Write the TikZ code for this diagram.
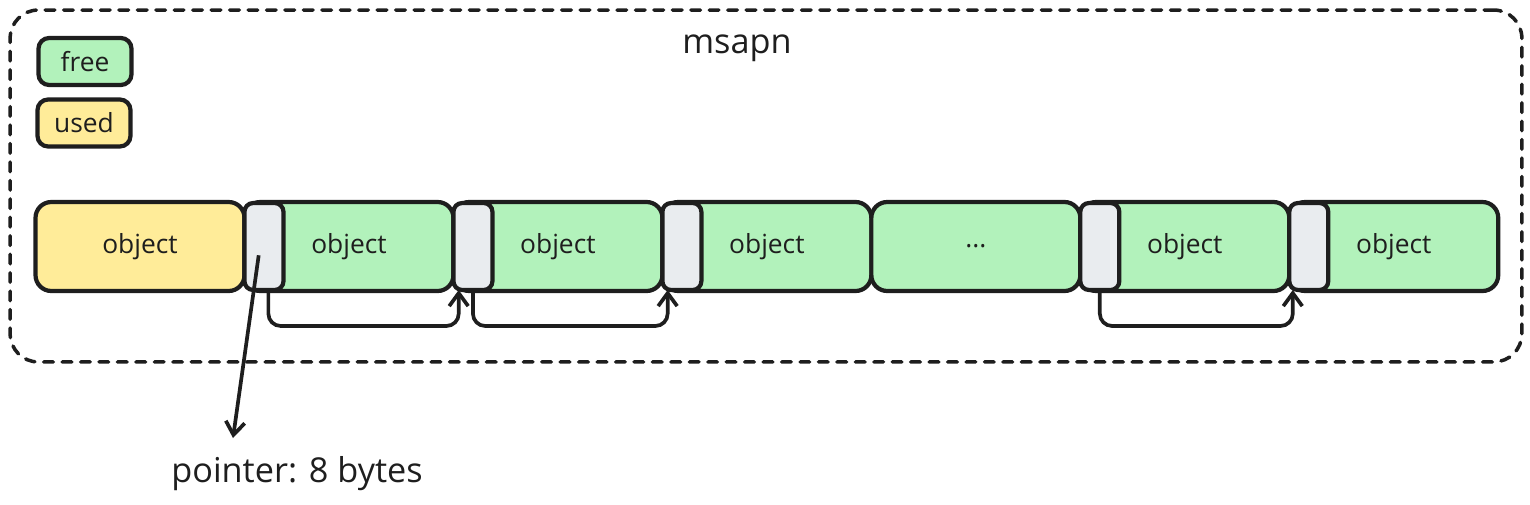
\documentclass[tikz,border=0pt]{standalone}
\usepackage{fontspec}
\setmainfont{Open Sans}
\usepackage{tikz}
\usetikzlibrary{positioning,arrows.meta}
\definecolor{ink}{HTML}{1E1E1E}
\definecolor{freegreen}{HTML}{B2F2BB}
\definecolor{usedyellow}{HTML}{FFEC99}
\definecolor{ptrgray}{HTML}{E9ECEF}
\tikzset{
  blk/.style    ={rectangle, rounded corners=9pt, draw=ink, line width=2.4pt, outer sep=0pt,
                  inner sep=0pt, minimum width=4.18cm, minimum height=1.78cm, text=ink,
                  font=\fontsize{15}{17}\selectfont},
  freeblk/.style={blk, fill=freegreen},
  usedblk/.style={blk, fill=usedyellow},
  ptr/.style    ={rectangle, rounded corners=5pt, draw=ink, line width=2.4pt, fill=ptrgray,
                  minimum width=0.78cm, minimum height=1.74cm, inner sep=0pt, outer sep=0pt,
                  anchor=west},
  key/.style    ={blk, rounded corners=6pt, minimum width=1.86cm, minimum height=0.94cm},
  frame/.style  ={rectangle, rounded corners=16pt, draw=ink, line width=2pt, line cap=round,
                  dash pattern=on 5.5pt off 5pt, minimum width=30.24cm, minimum height=7.04cm},
  link/.style   ={-{Straight Barb[length=2.6mm, width=3.8mm]}, draw=ink, line width=2.1pt,
                  rounded corners=7pt},
  note/.style   ={text=ink, font=\fontsize{19.5}{22}\selectfont, inner sep=0pt},
}

\begin{document}
\begin{tikzpicture}[x=0.02cm, y=-0.02cm]
  \useasboundingbox (0,0) rectangle (1530,504);
  % the whole span
  \node[frame] (span) at (766,186) {};
  \node[note] (title) at (737,48) {msapn};
  % legend
  \node[key, fill=freegreen] (kfree) at (85,61.5) {free};
  \node[key, fill=usedyellow] (kused) at (84,123) {used};
  % objects
  \node[usedblk] (b1) at (140,246.5) {object};
  \node[freeblk, right=0mm of b1] (b2) {object};
  \node[freeblk, right=0mm of b2] (b3) {object};
  \node[freeblk, right=0mm of b3] (b4) {object};
  \node[freeblk, right=0mm of b4] (b5) {...};
  \node[freeblk, right=0mm of b5] (b6) {object};
  \node[freeblk, right=0mm of b6] (b7) {object};
  % next pointers
  \node[ptr] (p2) at (b2.west) {};
  \node[ptr] (p3) at (b3.west) {};
  \node[ptr] (p4) at (b4.west) {};
  \node[ptr] (p6) at (b6.west) {};
  \node[ptr] (p7) at (b7.west) {};
  % free list links
  \draw[link] ([xshift=2.5pt]p2.south) -- ++(0,36) -| ([xshift=3pt]p3.south west);
  \draw[link] (p3.south) -- ++(0,36) -| ([xshift=3pt]p4.south west);
  \draw[link] (p6.south) -- ++(0,36) -| ([xshift=2pt]p7.south west);
  % pointer size
  \coordinate (tip) at (233,438);
  \draw[link] ([shift={(-3pt,-5pt)}]p2.center) -- (tip);
  \node[note] (ptrlabel) at (297,474) {pointer: 8 bytes};
\end{tikzpicture}
\end{document}
